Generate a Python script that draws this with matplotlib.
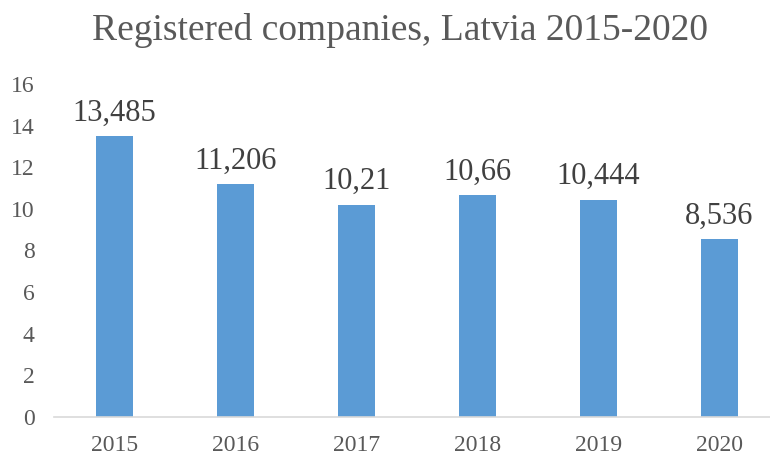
import matplotlib
matplotlib.use("Agg")
from matplotlib import pyplot as plt

# datos
years = ["2015", "2016", "2017", "2018", "2019", "2020"]
companies = [13.485, 11.206, 10.21, 10.66, 10.444, 8.536]
labels = ["13,485", "11,206", "10,21", "10,66", "10,444", "8,536"]
yticks = [0, 2, 4, 6, 8, 10, 12, 14, 16]

plt.rcParams["font.family"] = ["Liberation Serif", "DejaVu Serif"]

fig = plt.figure(figsize=(7.7, 4.55), dpi=100)
ax = fig.add_axes([54 / 770, 1 - 417 / 455, 716 / 770, 333 / 455])

x = range(len(years))
ax.bar(x, companies, width=0.31, color="#5B9BD5", zorder=2)

for i, (v, lab) in enumerate(zip(companies, labels)):
    ax.annotate(lab, (i, v), xytext=(0, 6), textcoords="offset points",
                ha="center", va="bottom", fontsize=22, color="#404040")

ax.set_xlim(-0.5, 5.417)
ax.set_ylim(0, 16)
ax.set_yticks(yticks)
ax.set_xticks(list(x))
ax.set_xticklabels(years)
ax.tick_params(axis="both", length=0, labelsize=17, colors="#595959")
ax.tick_params(axis="x", pad=13)
ax.tick_params(axis="y", pad=14)

for side in ["top", "right", "left"]:
    ax.spines[side].set_visible(False)
ax.spines["bottom"].set_color("#D9D9D9")
ax.spines["bottom"].set_linewidth(1.2)

fig.text(400 / 770, 1 - 30 / 455, "Registered companies, Latvia 2015-2020",
         ha="center", va="center", fontsize=27, color="#595959")

fig.savefig("out.png", dpi=100)
